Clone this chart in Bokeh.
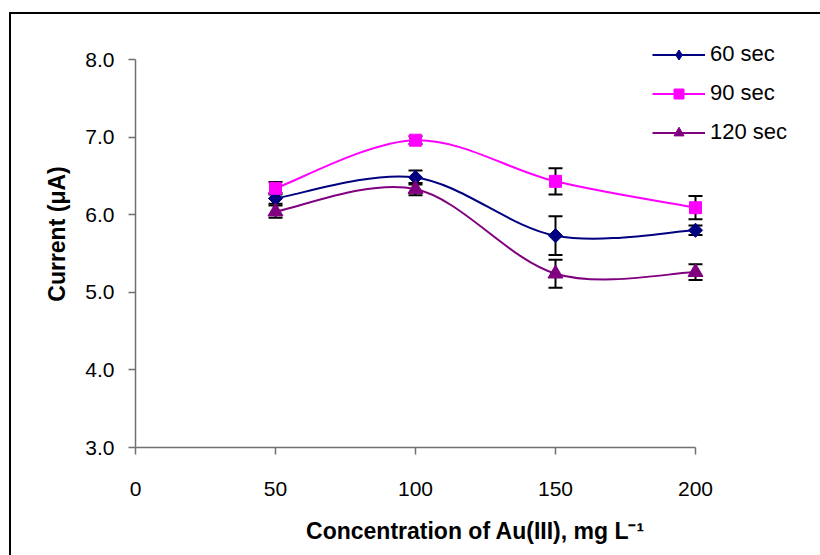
import math
from bokeh.plotting import figure
from bokeh.models import (Range1d, FixedTicker, PrintfTickFormatter, Legend, LegendItem,
                          Whisker, TeeHead, ColumnDataSource, InlineStyleSheet)
from bokeh.embed import file_html
from bokeh.resources import INLINE

# ---- data ----
conc = [50, 100, 150, 200]
series_names = ["60 sec", "90 sec", "120 sec"]
cur_60 = [6.21, 6.48, 5.73, 5.80]
err_60 = [0.07, 0.09, 0.25, 0.06]
cur_90 = [6.34, 6.96, 6.43, 6.09]
err_90 = [0.08, 0.05, 0.17, 0.15]
cur_120 = [6.04, 6.33, 5.24, 5.26]
err_120 = [0.08, 0.08, 0.18, 0.10]
x_ticks = [0, 50, 100, 150, 200]
y_ticks = [3.0, 4.0, 5.0, 6.0, 7.0, 8.0]

FONT = "Liberation Sans"

p = figure(width=820, height=555, output_backend="svg", toolbar_location=None,
           min_border_left=135, min_border_right=5, min_border_top=20, min_border_bottom=108,
           x_range=Range1d(0, 680 / 2.8), y_range=Range1d(3, 3 + 427 / 77.6))
p.outline_line_color = None
p.xgrid.visible = False
p.ygrid.visible = False
p.background_fill_color = "white"
p.border_fill_color = "white"

p.stylesheets = [InlineStyleSheet(css=""":host::after { content: ''; position: absolute; left: 9px; top: 12px;
 width: 811px; height: 543px; border-left: 2px solid black; border-top: 2px solid black;
 box-sizing: border-box; pointer-events: none; }""")]

for ax in (p.xaxis[0], p.yaxis[0]):
    ax.axis_line_color = "#707070"
    ax.axis_line_width = 1.5
    ax.major_tick_line_color = "#707070"
    ax.major_tick_line_width = 1.5
    ax.major_tick_out = 7
    ax.major_tick_in = 0
    ax.minor_tick_line_color = None
    ax.major_label_text_font = FONT
    ax.major_label_text_font_size = "21px"
    ax.major_label_text_color = "black"
    ax.axis_label_text_font = FONT
    ax.axis_label_text_font_size = "23px"
    ax.axis_label_text_font_style = "bold"
    ax.axis_label_text_color = "black"

p.xaxis.ticker = FixedTicker(ticks=x_ticks)
p.yaxis.ticker = FixedTicker(ticks=y_ticks)
p.yaxis.formatter = PrintfTickFormatter(format="%.1f")
p.xaxis.bounds = (0, 200)
p.yaxis.bounds = (3, 8)
p.xaxis.axis_label = "Concentration of Au(III), mg L\u207b\u00b9"
p.yaxis.axis_label = "Current (\u03bcA)"
p.xaxis.major_label_standoff = 27
p.yaxis.major_label_standoff = 14
p.xaxis.axis_label_standoff = 19
p.yaxis.axis_label_standoff = 12


def smooth_segments(xs, ys):
    n = len(xs)
    out = dict(x0=[], y0=[], x1=[], y1=[], cx0=[], cy0=[], cx1=[], cy1=[])
    for i in range(n - 1):
        im1 = max(i - 1, 0)
        ip2 = min(i + 2, n - 1)
        out["x0"].append(xs[i]); out["y0"].append(ys[i])
        out["x1"].append(xs[i + 1]); out["y1"].append(ys[i + 1])
        out["cx0"].append(xs[i] + (xs[i + 1] - xs[im1]) / 6)
        out["cy0"].append(ys[i] + (ys[i + 1] - ys[im1]) / 6)
        out["cx1"].append(xs[i + 1] - (xs[ip2] - xs[i]) / 6)
        out["cy1"].append(ys[i + 1] - (ys[ip2] - ys[i]) / 6)
    return out


# (name, values, errors, colour, plot marker, size, angle, legend marker, legend size)
specs = [
    (series_names[0], cur_60, err_60, "#000080", "square", 10, math.pi / 4, "diamond", 19),
    (series_names[1], cur_90, err_90, "#FF00FF", "square", 12, 0.0, "square", 12),
    (series_names[2], cur_120, err_120, "#800080", "triangle", 15, 0.0, "triangle", 15),
]

items = []
for name, ys, errs, color, marker, size, ang, lmarker, lsize in specs:
    src = ColumnDataSource(dict(x=conc, y=ys,
                                lo=[y - e for y, e in zip(ys, errs)],
                                hi=[y + e for y, e in zip(ys, errs)]))
    w = Whisker(base="x", upper="hi", lower="lo", source=src, dimension="height",
                line_color="black", line_width=2, level="underlay",
                upper_head=TeeHead(size=14, line_color="black", line_width=2),
                lower_head=TeeHead(size=14, line_color="black", line_width=2))
    p.add_layout(w)
    p.bezier(source=ColumnDataSource(smooth_segments(conc, ys)),
             x0="x0", y0="y0", x1="x1", y1="y1", cx0="cx0", cy0="cy0", cx1="cx1", cy1="cy1",
             line_color=color, line_width=2)
    p.scatter("x", "y", source=src, marker=marker, size=size, angle=ang,
              fill_color=color, line_color=color)
    # legend-only glyphs (placed outside the visible range)
    lr = p.line(x=[-60, -50], y=[0, 0], line_color=color, line_width=2)
    lm = p.scatter(x=[-55], y=[0], marker=lmarker, size=lsize,
                   fill_color=color, line_color=color)
    items.append(LegendItem(label=name, renderers=[lr, lm]))

legend = Legend(items=items, location=(517, 302), orientation="vertical",
                glyph_width=53, glyph_height=25, label_height=25, label_standoff=5,
                spacing=13, padding=0, margin=0, border_line_color=None,
                background_fill_alpha=0,
                label_text_font=FONT, label_text_font_size="22px", label_text_color="black")
p.add_layout(legend)

open("out.html", "w").write(file_html(p, INLINE))
